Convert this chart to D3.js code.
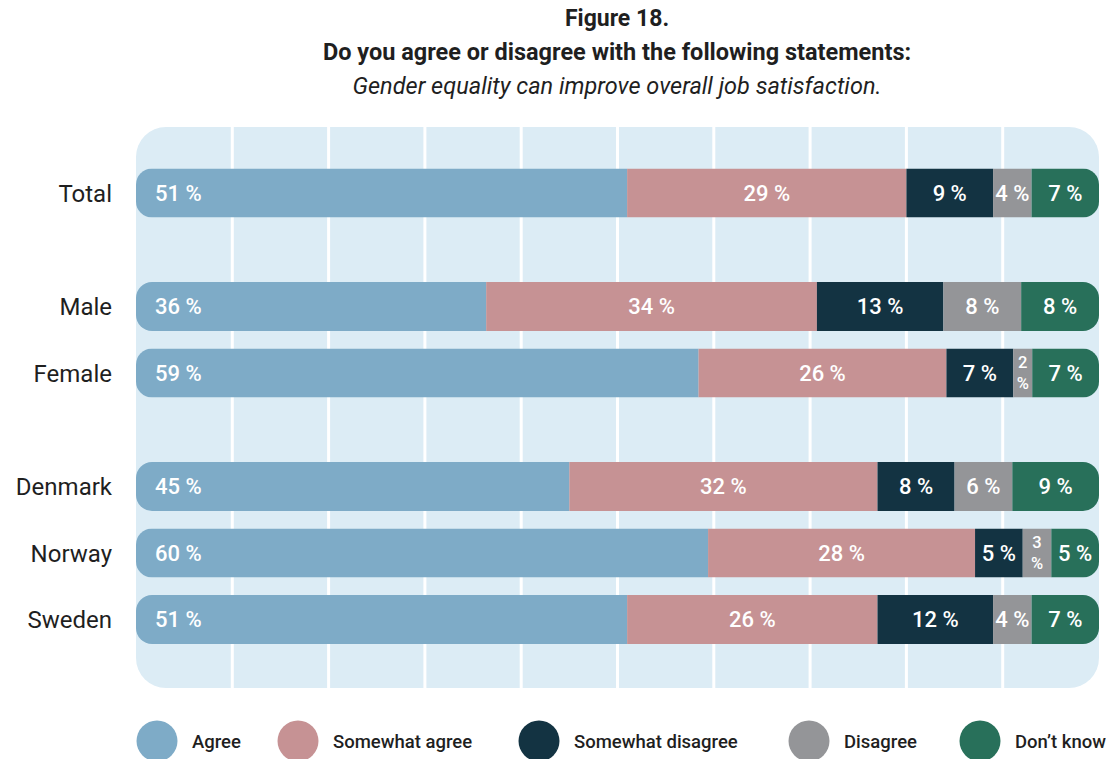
<!DOCTYPE html>
<html>
<head>
<meta charset="utf-8">
<script src="https://cdn.jsdelivr.net/npm/d3@7"></script>
<style>
  html, body { margin: 0; padding: 0; background: #ffffff; }
  svg { display: block; font-family: Roboto, "Noto Sans", sans-serif; }
</style>
</head>
<body>
<svg id="chart" width="1106" height="759"></svg>
<script>
// Survey answers, percent of respondents per group
const categories = ["Total", "Male", "Female", "Denmark", "Norway", "Sweden"];
const groupOf = [0, 1, 1, 2, 2, 2];
const answers = ["Agree", "Somewhat agree", "Somewhat disagree", "Disagree", "Don\u2019t know"];
const agree = [51, 36, 59, 45, 60, 51];
const somewhatAgree = [29, 34, 26, 32, 28, 26];
const somewhatDisagree = [9, 13, 7, 8, 5, 12];
const disagree = [4, 8, 2, 6, 3, 4];
const dontKnow = [7, 8, 7, 9, 5, 7];
const colors = ["#7eabc7", "#c69294", "#133342", "#949598", "#28705a"];

const seriesValues = [agree, somewhatAgree, somewhatDisagree, disagree, dontKnow];
const rows = categories.map((c, i) => {
  const r = { category: c, group: groupOf[i] };
  answers.forEach((a, j) => { r[a] = seriesValues[j][i]; });
  return r;
});

const svg = d3.select("#chart");

// Titles
const title = svg.append("g").attr("text-anchor", "middle").attr("fill", "#1f1f1f");
title.append("text").attr("x", 617).attr("y", 26)
  .attr("font-size", 23).attr("font-weight", 700).text("Figure 18.");
title.append("text").attr("x", 617).attr("y", 60)
  .attr("font-size", 23.5).attr("font-weight", 700).text("Do you agree or disagree with the following statements:");
title.append("text").attr("x", 617).attr("y", 94)
  .attr("font-size", 23.5).attr("font-style", "italic").text("Gender equality can improve overall job satisfaction.");

// Layout
const left = 136, right = 1099, panelTop = 127, panelBottom = 688;
const x = d3.scaleLinear().domain([0, 1]).range([left, right]);
const rowStep = 66.5, groupGap = 47, firstCenter = 193, barH = 49;
const yIndex = d3.scaleLinear().domain([0, 1]).range([firstCenter, firstCenter + rowStep]);
const yCenter = (d, i) => yIndex(i) + d.group * groupGap;

// Background panel with white gridlines
svg.append("rect")
  .attr("x", left).attr("y", panelTop)
  .attr("width", right - left).attr("height", panelBottom - panelTop)
  .attr("rx", 30).attr("fill", "#dcecf5");

svg.append("g").selectAll("line")
  .data(x.ticks(10).filter(t => t > 0 && t < 1))
  .join("line")
  .attr("x1", d => x(d)).attr("x2", d => x(d))
  .attr("y1", panelTop).attr("y2", panelBottom)
  .attr("stroke", "#ffffff").attr("stroke-width", 3);

// Stacked shares, each row scaled to 100 %
const stack = d3.stack().keys(answers).offset(d3.stackOffsetExpand);
const series = stack(rows);

// Rounded clip per row
const defs = svg.append("defs");
rows.forEach((d, i) => {
  defs.append("clipPath").attr("id", "row-clip-" + i)
    .append("rect")
    .attr("x", x(0)).attr("y", yCenter(d, i) - barH / 2)
    .attr("width", x(1) - x(0)).attr("height", barH)
    .attr("rx", 16);
});

const rowG = svg.append("g").selectAll("g.row")
  .data(rows)
  .join("g")
  .attr("class", "row")
  .attr("clip-path", (d, i) => `url(#row-clip-${i})`);

rowG.each(function (d, i) {
  const g = d3.select(this);
  const cy = yCenter(d, i);
  series.forEach((s, j) => {
    const seg = s[i];
    const x0 = x(seg[0]), x1 = x(seg[1]);
    g.append("rect")
      .attr("x", x0).attr("y", cy - barH / 2)
      .attr("width", x1 - x0).attr("height", barH)
      .attr("fill", colors[j]);
    const v = seg.data[s.key];
    const w = x1 - x0;
    if (j === 0) {
      g.append("text").attr("x", x0 + 19).attr("y", cy).attr("dy", "0.36em")
        .attr("fill", "#ffffff").attr("font-size", 22).attr("font-weight", 500)
        .text(v + " %");
    } else if (w < 32) {
      const t = g.append("text").attr("text-anchor", "middle")
        .attr("fill", "#ffffff").attr("font-size", 16.5).attr("font-weight", 500);
      t.append("tspan").attr("x", (x0 + x1) / 2).attr("y", cy - 5).text(v);
      t.append("tspan").attr("x", (x0 + x1) / 2).attr("y", cy + 16).text("%");
    } else {
      g.append("text").attr("x", (x0 + x1) / 2).attr("y", cy).attr("dy", "0.36em")
        .attr("text-anchor", "middle")
        .attr("fill", "#ffffff").attr("font-size", 22).attr("font-weight", 500)
        .text(v + " %");
    }
  });
});

// Category labels
svg.append("g").selectAll("text")
  .data(rows)
  .join("text")
  .attr("x", 112).attr("y", (d, i) => yCenter(d, i)).attr("dy", "0.36em")
  .attr("text-anchor", "end").attr("fill", "#1f1f1f").attr("font-size", 24)
  .text(d => d.category);

// Legend
const legendX = [157, 298, 539, 809, 980];
const legend = svg.append("g").selectAll("g")
  .data(answers)
  .join("g")
  .attr("transform", (d, i) => `translate(${legendX[i]},741)`);
legend.append("circle").attr("r", 20.5).attr("fill", (d, i) => colors[i]);
legend.append("text").attr("x", 35).attr("dy", "0.36em")
  .attr("fill", "#1f1f1f").attr("font-size", 18.5).attr("font-weight", 500)
  .text(d => d);
</script>
</body>
</html>
